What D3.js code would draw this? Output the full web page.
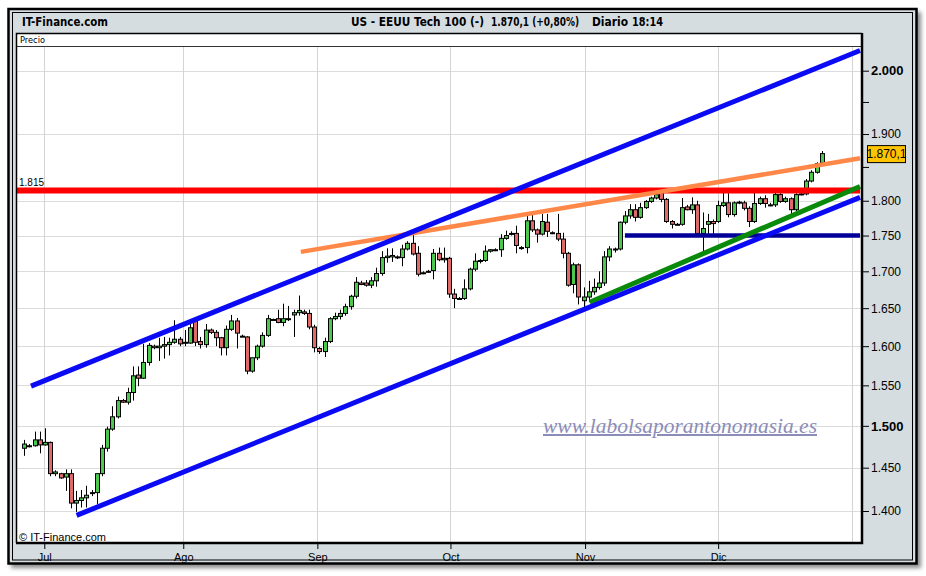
<!DOCTYPE html>
<html>
<head>
<meta charset="utf-8">
<title>US - EEUU Tech 100</title>
<script src="https://cdn.jsdelivr.net/npm/d3@7"></script>
<style>
    body { margin: 0; background: #ffffff; }
    svg { display: block; }
    .tick text { font-family: "Liberation Sans", Arial, sans-serif; fill: #000; }
</style>
</head>
<body>
<script>
// daily bars (open / high / low / close)
var openVals = [
    1473,1476,1476,1483,1477,1480,1443,1443,1439,1443,
    1409,1412,1415,1421,1421,1443,1473,1496,1511,1531,
    1529,1541,1563,1559,1579,1600,1598,1600,1602,1605,
    1609,1604,1604,1633,1606,1602,1621,1618,1611,1598,
    1622,1633,1613,1612,1568,1585,1600,1614,1635,1636,
    1631,1636,1641,1644,1645,1643,1625,1597,1593,1606,
    1636,1639,1643,1652,1666,1684,1684,1681,1687,1697,
    1719,1720,1720,1719,1731,1739,1725,1698,1700,1701,
    1725,1716,1718,1669,1663,1663,1676,1703,1714,1715,
    1728,1730,1730,1746,1753,1753,1733,1733,1771,1758,
    1752,1769,1754,1753,1745,1725,1682,1709,1660,1665,
    1672,1678,1684,1720,1731,1731,1769,1778,1787,1776,
    1790,1799,1804,1811,1802,1770,1766,1766,1791,1787,
    1794,1753,1766,1770,1770,1793,1797,1780,1797,1797,
    1789,1770,1796,1803,1794,1794,1809,1799,1803,1787,
    1810,1810,1829,1842,1856
];
var highVals = [
    1483,1478,1493,1493,1497,1481,1447,1444,1448,1448,
    1423,1424,1429,1424,1443,1477,1499,1524,1536,1533,
    1547,1574,1574,1603,1604,1602,1611,1612,1611,1634,
    1612,1621,1634,1636,1612,1629,1623,1621,1612,1627,
    1641,1637,1615,1613,1585,1602,1618,1641,1636,1648,
    1656,1653,1648,1667,1648,1648,1628,1599,1611,1638,
    1644,1648,1656,1668,1692,1687,1688,1692,1705,1728,
    1732,1732,1722,1737,1742,1752,1735,1700,1702,1731,
    1733,1733,1720,1676,1665,1689,1705,1725,1717,1736,
    1731,1732,1752,1757,1756,1764,1735,1781,1781,1760,
    1781,1781,1756,1781,1754,1727,1712,1711,1678,1687,
    1690,1700,1728,1735,1733,1770,1785,1795,1795,1797,
    1801,1806,1814,1815,1804,1772,1768,1804,1794,1805,
    1800,1783,1781,1773,1800,1812,1811,1799,1800,1800,
    1792,1812,1806,1808,1797,1812,1811,1806,1805,1811,
    1812,1832,1845,1857,1874
];
var lowVals = [
    1464,1474,1475,1467,1476,1440,1440,1437,1423,1403,
    1399,1404,1404,1417,1408,1440,1469,1494,1509,1528,
    1526,1531,1549,1558,1575,1596,1581,1584,1588,1603,
    1600,1600,1603,1600,1597,1598,1616,1600,1588,1588,
    1620,1597,1612,1564,1566,1582,1598,1612,1634,1630,
    1626,1633,1612,1640,1641,1622,1592,1590,1586,1604,
    1634,1635,1640,1648,1663,1681,1679,1677,1679,1694,
    1712,1713,1717,1707,1729,1722,1693,1696,1698,1689,
    1714,1712,1664,1650,1661,1661,1674,1700,1711,1713,
    1726,1728,1720,1744,1750,1725,1730,1725,1755,1740,
    1750,1748,1752,1742,1718,1679,1670,1655,1650,1658,
    1668,1675,1680,1714,1726,1729,1766,1774,1770,1774,
    1788,1797,1802,1798,1768,1760,1765,1764,1786,1781,
    1751,1722,1752,1752,1768,1791,1776,1777,1795,1786,
    1762,1768,1794,1790,1792,1791,1797,1797,1780,1785,
    1808,1808,1827,1840,1854
];
var closeVals = [
    1478,1476,1483,1477,1480,1443,1445,1438,1443,1409,
    1412,1415,1418,1421,1443,1473,1496,1511,1531,1529,
    1541,1562,1559,1579,1601,1598,1600,1602,1605,1609,
    1603,1605,1624,1605,1602,1621,1618,1611,1598,1622,
    1633,1617,1613,1568,1585,1600,1614,1636,1635,1631,
    1636,1636,1644,1647,1643,1625,1598,1593,1606,1636,
    1639,1643,1652,1666,1685,1682,1681,1687,1697,1719,
    1721,1722,1719,1731,1739,1724,1696,1698,1699,1725,
    1716,1718,1669,1663,1663,1676,1703,1714,1715,1728,
    1730,1730,1746,1750,1753,1736,1733,1771,1758,1752,
    1770,1756,1754,1745,1725,1681,1709,1665,1665,1672,
    1678,1684,1720,1731,1731,1769,1778,1787,1776,1790,
    1799,1804,1809,1802,1770,1766,1766,1790,1787,1794,
    1753,1760,1770,1767,1793,1797,1780,1797,1798,1789,
    1770,1796,1803,1796,1794,1809,1799,1803,1787,1809,
    1810,1829,1842,1855,1870.1
];

// month gridlines, in bar index units
var monthLabels = ["Jul", "Ago", "Sep", "Oct", "Nov", "Dic", ""];
var monthPos = [3.86, 30.7, 56.6, 82.3, 108.3, 134.0, 159.8];

// price axis
var yTicks = [2000, 1950, 1900, 1850, 1800, 1750, 1700, 1650, 1600, 1550, 1500, 1450, 1400];
var yTickLabels = ["2.000", "", "1.900", "", "1.800", "1.750", "1.700", "1.650", "1.600", "1.550", "1.500", "1.450", "1.400"];
var yTickBold = [2000, 1500];

// drawn lines: [bar index, price] end points
var upperChannel = [[1.3, 1549], [161.4, 2033]];
var lowerChannel = [[10.1, 1395], [161.4, 1805]];
var orangeTrend = [[53.4, 1727], [161.4, 1863]];
var greenTrend = [[109.2, 1658], [161.4, 1821]];
var level1815 = [[-1.5, 1815], [161.4, 1815]];
var level1750 = [[116.0, 1750], [161.4, 1750]];

var lastValue = 1870.1;

// header pieces: text, left x, width it takes
var titleParts = ["IT-Finance.com", "US - EEUU Tech 100 (-)", "1.870,1 (+0,80%)", "Diario", "18:14"];
var titleX = [22, 351, 491, 592, 632];
var titleLen = [86, 133, 88, 36, 31];

var esLocale = d3.formatLocale({decimal: ",", thousands: ".", grouping: [3], currency: ["", ""]});
var fmtTag = esLocale.format(",.1f");

var W = 926, H = 576;
var plotL = 16, plotR = 862, plotT = 33, plotB = 543, headB = 46;

var svg = d3.select("body").append("svg")
    .attr("width", W)
    .attr("height", H);

var defs = svg.append("defs");
defs.append("filter").attr("id", "shade")
    .attr("x", "-5%").attr("y", "-5%").attr("width", "110%").attr("height", "110%")
    .append("feGaussianBlur").attr("stdDeviation", 2);
defs.append("clipPath").attr("id", "plotclip")
    .append("rect")
    .attr("x", plotL + 1).attr("y", headB + 0.5)
    .attr("width", plotR - plotL - 2).attr("height", plotB - headB - 1.5);

// outer panel with shadow
svg.append("rect")
    .attr("x", 11).attr("y", 12).attr("width", 910).attr("height", 556)
    .attr("fill", "#8a8a8a")
    .attr("filter", "url(#shade)");
svg.append("rect")
    .attr("x", 8.5).attr("y", 9).attr("width", 908).attr("height", 554.5)
    .attr("fill", "#d5dde1")
    .attr("stroke", "#000").attr("stroke-width", 2.5);
svg.append("rect")
    .attr("x", 12.5).attr("y", 12.5).attr("width", 900).attr("height", 547.5)
    .attr("fill", "none")
    .attr("stroke", "#000").attr("stroke-width", 1);

// header text, font size fitted to the width each piece takes
titleParts.forEach(function(t, i) {
    let txt = svg.append("text")
        .text(t)
        .attr("x", titleX[i]).attr("y", 26)
        .style("font-family", "'Liberation Sans Narrow', 'DejaVu Sans Condensed', Arial, sans-serif")
        .style("font-weight", "bold")
        .style("font-size", "13px");
    let natural = txt.node().getComputedTextLength();
    let fs = Math.min(14, 13 * titleLen[i] / natural);
    txt.style("font-size", fs + "px");
    if (fs < 11.5) {
        txt.style("font-size", "11.5px")
            .attr("textLength", titleLen[i]).attr("lengthAdjust", "spacingAndGlyphs");
    }
});

// plot area
svg.append("rect")
    .attr("x", plotL).attr("y", plotT)
    .attr("width", plotR - plotL).attr("height", plotB - plotT)
    .attr("fill", "#fff");

// scales
var x = d3.scaleLinear()
    .domain([0, openVals.length - 1])
    .range([24.3, 821.7]);

var y = d3.scaleLog()
    .domain([1400, 2000])
    .range([511, 70.7]);

// gridlines
var grid = svg.append("g").attr("clip-path", "url(#plotclip)");
grid.selectAll(".hgrid")
    .data(yTicks.filter(function(d, i) { return yTickLabels[i] !== ""; }))
    .enter().append("line")
    .attr("x1", plotL).attr("x2", plotR)
    .attr("y1", function(d) { return Math.round(y(d)) + 0.5; })
    .attr("y2", function(d) { return Math.round(y(d)) + 0.5; })
    .attr("stroke", "#dcdcdc").attr("stroke-width", 1);
grid.selectAll(".vgrid")
    .data(monthPos)
    .enter().append("line")
    .attr("x1", function(d) { return Math.round(x(d)) + 0.5; })
    .attr("x2", function(d) { return Math.round(x(d)) + 0.5; })
    .attr("y1", headB).attr("y2", plotB)
    .attr("stroke", "#d4d4d4").attr("stroke-width", 1);

// watermark
svg.append("text")
    .text("www.labolsaporantonomasia.es")
    .attr("x", 543).attr("y", 433)
    .attr("textLength", 274).attr("lengthAdjust", "spacingAndGlyphs")
    .attr("fill", "#8c8cb8")
    .style("font-family", "'Liberation Serif', 'DejaVu Serif', serif")
    .style("font-style", "italic").style("font-size", "20px")
    .style("text-decoration", "underline");

// candles
var bars = grid.selectAll(".bar")
    .data(openVals.map(function(o, i) { return {o: o, h: highVals[i], l: lowVals[i], c: closeVals[i], i: i}; }))
    .enter().append("g")
    .attr("class", "bar");

bars.append("line")
    .attr("x1", function(d) { return Math.round(x(d.i)) + 0.5; })
    .attr("x2", function(d) { return Math.round(x(d.i)) + 0.5; })
    .attr("y1", function(d) { return y(d.h); })
    .attr("y2", function(d) { return y(d.l); })
    .attr("stroke", "#000").attr("stroke-width", 1);

bars.append("rect")
    .attr("x", function(d) { return Math.round(x(d.i)) - 1.5; })
    .attr("width", 4)
    .attr("y", function(d) { return y(Math.max(d.o, d.c)); })
    .attr("height", function(d) { return Math.max(1, Math.abs(y(d.o) - y(d.c))); })
    .attr("fill", function(d) { return d.c >= d.o ? "#4cc84c" : "#de6a6a"; })
    .attr("stroke", "#000").attr("stroke-width", 1);

// drawn lines on top of the bars
var line = d3.line()
    .x(function(d) { return x(d[0]); })
    .y(function(d) { return y(d[1]); });

var drawn = [
    {pts: level1815, color: "#ff0000", w: 6},
    {pts: orangeTrend, color: "#ff8848", w: 4.5},
    {pts: level1750, color: "#000099", w: 4.5},
    {pts: greenTrend, color: "#0a8a0a", w: 5},
    {pts: lowerChannel, color: "#0a0af5", w: 5},
    {pts: upperChannel, color: "#0a0af5", w: 5}
];
grid.selectAll(".drawn")
    .data(drawn)
    .enter().append("path")
    .attr("d", function(d) { return line(d.pts); })
    .attr("fill", "none")
    .attr("stroke", function(d) { return d.color; })
    .attr("stroke-width", function(d) { return d.w; });

svg.append("text")
    .text("1.815")
    .attr("x", 19).attr("y", y(1815) - 5)
    .style("font-family", "'Liberation Sans', Arial, sans-serif")
    .style("font-size", "10px");

svg.append("text")
    .text("\u00a9 IT-Finance.com")
    .attr("x", 19).attr("y", 541)
    .style("font-family", "'Liberation Sans', Arial, sans-serif")
    .style("font-size", "11px");

// header band "Precio"
svg.append("line")
    .attr("x1", plotL).attr("x2", plotR)
    .attr("y1", headB + 0.5).attr("y2", headB + 0.5)
    .attr("stroke", "#333").attr("stroke-width", 1);
svg.append("text")
    .text("Precio")
    .attr("x", 20).attr("y", 43)
    .attr("textLength", 25).attr("lengthAdjust", "spacingAndGlyphs")
    .style("font-family", "'DejaVu Sans', Arial, sans-serif")
    .style("font-size", "9.5px");

// plot frame: thin top/left, heavy right/bottom
svg.append("path")
    .attr("d", "M" + (plotL + 0.5) + "," + plotB + "V" + (plotT + 0.5) + "H" + plotR)
    .attr("fill", "none").attr("stroke", "#000").attr("stroke-width", 1.5);
svg.append("path")
    .attr("d", "M" + plotR + "," + plotT + "V" + plotB + "H" + plotL)
    .attr("fill", "none").attr("stroke", "#000").attr("stroke-width", 2.5);

// price axis on the right
var yAxis = d3.axisRight(y)
    .tickValues(yTicks)
    .tickSize(6)
    .tickPadding(2)
    .tickFormat(function(d, i) { return yTickLabels[i]; });

var yg = svg.append("g")
    .attr("transform", "translate(" + (plotR + 1) + ",0)")
    .call(yAxis);
yg.select(".domain").remove();
yg.selectAll(".tick line").attr("stroke", "#000");
yg.selectAll(".tick text")
    .style("font-size", function(d) { return yTickBold.includes(d) ? "13px" : "12px"; })
    .style("font-weight", function(d) { return yTickBold.includes(d) ? "bold" : "normal"; });

// last value tag
var tag = svg.append("g")
    .attr("transform", "translate(867," + (y(lastValue) - 8.5) + ")");
tag.append("rect")
    .attr("x", 0.5).attr("y", 0.5).attr("width", 38).attr("height", 17)
    .attr("fill", "#ffc400").attr("stroke", "#000").attr("stroke-width", 1);
tag.append("text")
    .text(fmtTag(lastValue))
    .attr("x", 19.5).attr("y", 13)
    .attr("text-anchor", "middle")
    .style("font-family", "'Liberation Sans', Arial, sans-serif")
    .style("font-size", "12px");

// month axis
var xAxis = d3.axisBottom(x)
    .tickValues(monthPos.slice(0, 6))
    .tickSize(5)
    .tickPadding(4)
    .tickFormat(function(d, i) { return monthLabels[i]; });

var xg = svg.append("g")
    .attr("transform", "translate(0," + (plotB + 1) + ")")
    .call(xAxis);
xg.select(".domain").remove();
xg.selectAll(".tick line").attr("stroke", "#000");
xg.selectAll(".tick text").style("font-size", "11px");
</script>
</body>
</html>
